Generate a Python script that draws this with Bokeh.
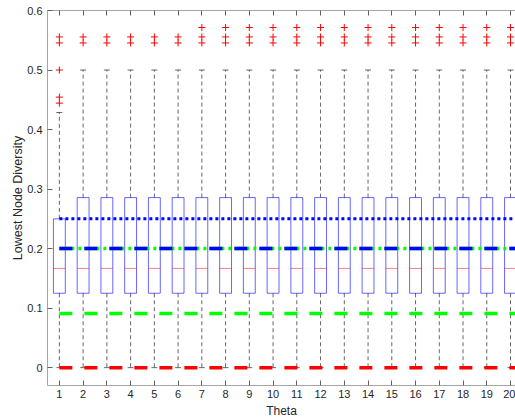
from bokeh.plotting import figure
from bokeh.models import Range1d, LinearAxis, FixedTicker, CustomJSTickFormatter, ColumnDataSource
from bokeh.embed import file_html
from bokeh.resources import INLINE

# Box statistics per theta value
theta = list(range(1, 21))
q1 = [0.125] * 20
median = [0.1667] * 20
q3 = [0.25] + [0.2857] * 19
whisker_lo = [0.0] * 20
whisker_hi = [0.4286] + [0.5] * 19

# Outliers (theta, value)
outlier_theta = [1, 1, 1, 1, 1] + [t for t in range(2, 7) for _ in range(2)] + [t for t in range(7, 21) for _ in range(3)]
outlier_value = [0.4444, 0.4545, 0.5, 0.5455, 0.5556] + [0.5455, 0.5556] * 5 + [0.5455, 0.5556, 0.5714] * 14

# Horizontal reference levels
ref_x = [1, 21]
level_red = 0.0
level_green_dash = 0.0909
level_dashdot = 0.2
level_blue_dot = 0.25

y_ticks = [0, 0.1, 0.2, 0.3, 0.4, 0.5, 0.6]

FONT = "Liberation Sans"
TXT = "#262626"

p = figure(width=515, height=420, output_backend="svg", toolbar_location=None,
           x_range=Range1d(0.5, 20.21), y_range=Range1d(-0.03, 0.6),
           min_border_left=47, min_border_right=0, min_border_top=10, min_border_bottom=34)
p.outline_line_color = None
p.xgrid.visible = False
p.ygrid.visible = False
p.background_fill_color = "white"
p.border_fill_color = "white"

def style_axis(ax):
    ax.axis_line_color = "#a6a6a6"
    ax.major_tick_line_color = "#606060"
    ax.major_tick_in = 5
    ax.major_tick_out = 0
    ax.minor_tick_line_color = None
    ax.major_label_text_font = FONT
    ax.major_label_text_font_size = "11px"
    ax.major_label_text_color = TXT
    ax.axis_label_text_font = FONT
    ax.axis_label_text_font_size = "12px"
    ax.axis_label_text_font_style = "normal"
    ax.axis_label_text_color = TXT

xa = p.xaxis[0]
style_axis(xa)
xa.ticker = FixedTicker(ticks=theta)
xa.axis_label = "Theta"
xa.major_label_standoff = 4
xa.axis_label_standoff = 3

ya = p.yaxis[0]
style_axis(ya)
ya.ticker = FixedTicker(ticks=y_ticks)
ya.formatter = CustomJSTickFormatter(code="return tick === 0 ? '0' : tick.toFixed(1);")
ya.axis_label = "Lowest Node Diversity"
ya.axis_label_text_font_size = "12.5px"
ya.major_label_standoff = 5
ya.axis_label_standoff = -1

# Top box edge with inward ticks, no labels
top = LinearAxis(ticker=FixedTicker(ticks=theta))
style_axis(top)
top.major_label_text_font_size = "1px"
top.major_label_text_alpha = 0
top.formatter = CustomJSTickFormatter(code="return '';")
top.major_label_standoff = 0
p.add_layout(top, "above")

src = ColumnDataSource(dict(
    x=theta, q1=q1, med=median, q3=q3, lo=whisker_lo, hi=whisker_hi,
    xl=[t - 0.25 for t in theta], xr=[t + 0.25 for t in theta],
    cl=[t - 0.125 for t in theta], cr=[t + 0.125 for t in theta],
))

# Whiskers and caps
p.segment(x0="x", x1="x", y0="q3", y1="hi", source=src, line_color="black", line_alpha=0.6,
          line_width=1, line_dash="4 3")
p.segment(x0="x", x1="x", y0="q1", y1="lo", source=src, line_color="black", line_alpha=0.6,
          line_width=1, line_dash="4 3")
p.segment(x0="cl", x1="cr", y0="hi", y1="hi", source=src, line_color="black", line_alpha=0.6, line_width=1)
p.segment(x0="cl", x1="cr", y0="lo", y1="lo", source=src, line_color="black", line_alpha=0.6, line_width=1)

# Boxes and medians
p.vbar(x="x", width=0.5, bottom="q1", top="q3", source=src, fill_color=None,
       line_color="blue", line_alpha=0.6, line_width=1)
p.segment(x0="xl", x1="xr", y0="med", y1="med", source=src, line_color="red", line_alpha=0.5, line_width=1)

# Outliers
p.scatter(outlier_theta, outlier_value, marker="cross", size=7, line_color="red", line_width=1)

# Reference levels
p.line(ref_x, [level_red] * 2, line_color="red", line_width=3.5, line_dash="13 12")
p.line(ref_x, [level_green_dash] * 2, line_color="#00ff00", line_width=3.5, line_dash="13 12")
p.line(ref_x, [level_dashdot] * 2, line_color="#00ff00", line_width=3.5, line_dash="15 4 3 3")
p.line(ref_x, [level_dashdot] * 2, line_color="blue", line_width=3.5, line_dash="13 12")
p.line(ref_x, [level_blue_dot] * 2, line_color="blue", line_width=3, line_dash="3 3")

open("out.html", "w").write(file_html(p, INLINE))
